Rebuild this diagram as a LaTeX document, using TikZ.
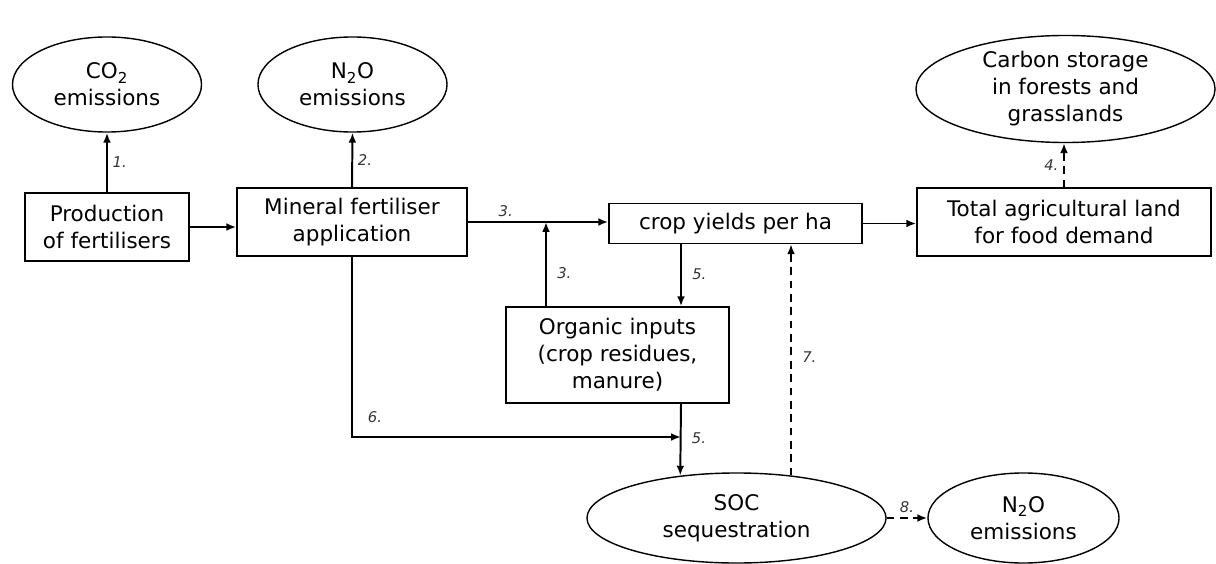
\documentclass[tikz,border=0pt]{standalone}
\usepackage{fontspec}
\setmainfont{DejaVu Sans}
\usetikzlibrary{shapes.geometric,arrows.meta}

\begin{document}
\begin{tikzpicture}[x=0.025cm, y=-0.025cm, >={Latex[length=7pt,width=5.5pt]},
    box/.style={draw, line width=1pt, align=center, inner sep=0pt, font=\fontsize{15.3}{19.2}\selectfont},
    oval/.style={draw, line width=1pt, ellipse, align=center, inner sep=0pt, font=\fontsize{15.3}{19.2}\selectfont},
    link/.style={line width=1.4pt, ->},
    dlink/.style={line width=1.4pt, ->, dash pattern=on 5.5pt off 4pt},
    num/.style={font=\fontsize{10.5}{12}\selectfont\itshape, text=black!80}]
    \useasboundingbox (0,0) rectangle (1216,564);

    % emissions and storage
    \node[oval, minimum width=4.725cm, minimum height=2.375cm] (co2) at (107,84.5) {CO\textsubscript{2}\\emissions};
    \node[oval, minimum width=4.725cm, minimum height=2.375cm] (n2oA) at (352.5,84.5) {N\textsubscript{2}O\\emissions};
    \node[oval, minimum width=7.475cm, minimum height=2.675cm] (carbon) at (1065.5,89) {Carbon storage\\in forests and\\grasslands};

    % boxes
    \node[box, minimum width=4.1cm, minimum height=1.7cm] (prod) at (107,227) {Production\\of fertilisers};
    \node[box, minimum width=5.75cm, minimum height=1.7cm] (mineral) at (352,222) {Mineral fertiliser\\application};
    \node[box, minimum width=6.325cm, minimum height=1cm] (crop) at (735.5,223.5) {crop yields per ha};
    \node[box, minimum width=7.35cm, minimum height=1.7cm] (total) at (1064,222) {Total agricultural land\\for food demand};
    \node[box, minimum width=5.575cm, minimum height=2.4cm] (organic) at (617.5,355) {Organic inputs\\(crop residues,\\manure)};

    % soil
    \node[oval, minimum width=7.475cm, minimum height=2.25cm] (soc) at (736.5,518) {SOC\\sequestration};
    \node[oval, minimum width=4.775cm, minimum height=2.25cm] (n2oB) at (1023.5,518) {N\textsubscript{2}O\\emissions};

    \coordinate (j3) at (546,222);
    \coordinate (j6) at (681,437);

    \draw[link] (prod.north) -- (co2.south) node[num, right, midway] {1.};
    \draw[link] (mineral.north) -- (n2oA.south) node[num, right, midway] {2.};
    \draw[link] (prod.east) -- (prod.east -| mineral.west);
    \draw[link] (mineral.east) -- (mineral.east -| crop.west) node[num, above, pos=0.27] {3.};
    \draw[link] (j3 |- organic.north) -- (j3) node[num, right=4pt, pos=0.39] {3.};
    \draw[link] (crop.south -| j6) -- (organic.north -| j6) node[num, right=4pt, pos=0.48] {5.};
    \draw[link] (organic.south -| j6) -- (soc.143) node[num, right=4pt, pos=0.48] {5.};
    \draw[link] (mineral.south) |- (j6) node[num, above=6pt, pos=0.535] {6.};
    \draw[link] (crop.east) -- (crop.east -| total.west);
    \draw[dlink] (total.north) -- (total.north |- carbon.south) node[num, left, midway] {4.};
    \draw[dlink] (soc.38.7) -- (soc.38.7 |- crop.south) node[num, right=4pt, pos=0.51] {7.};
    \draw[dlink] (soc.east) -- (n2oB.west) node[num, above, midway] {8.};
\end{tikzpicture}
\end{document}
